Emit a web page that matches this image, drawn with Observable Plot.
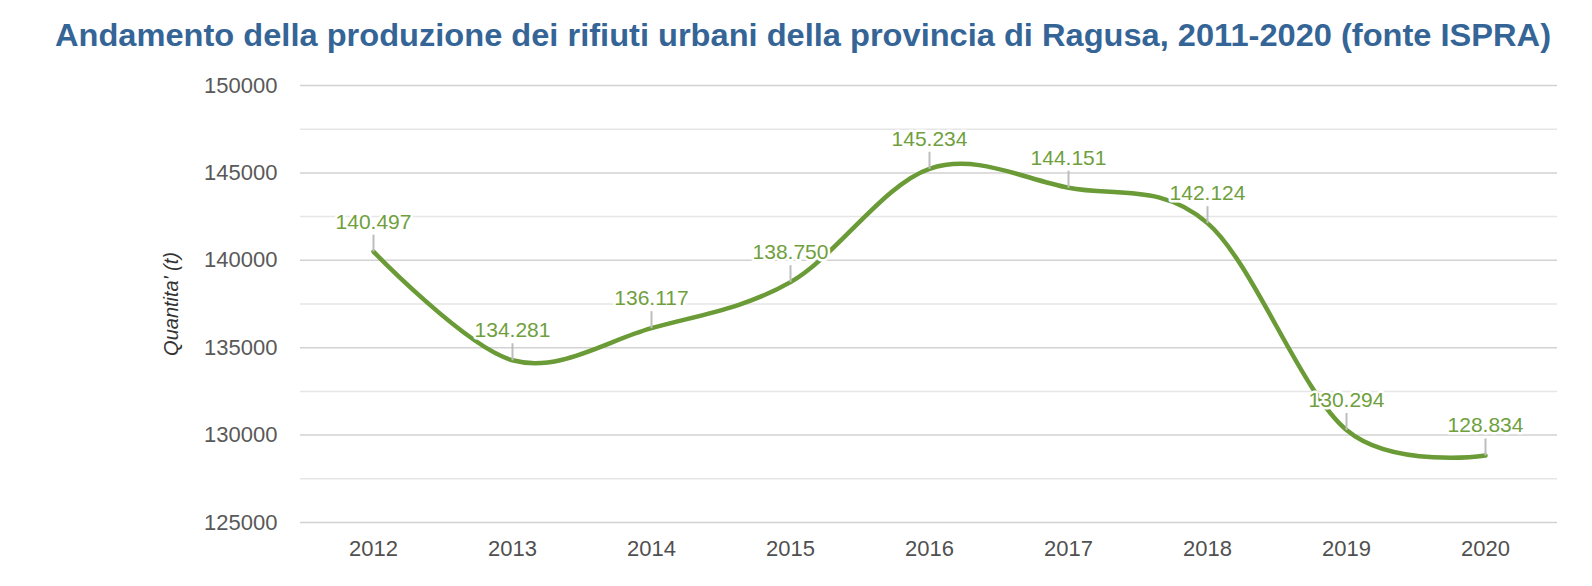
<!DOCTYPE html>
<html>
<head>
<meta charset="utf-8">
<script src="https://cdn.jsdelivr.net/npm/d3@7"></script>
<script src="https://cdn.jsdelivr.net/npm/@observablehq/plot@0.6"></script>
<style>
  html, body { margin: 0; padding: 0; background: #ffffff; width: 1592px; height: 586px; overflow: hidden; }
  #title { position: absolute; left: 55px; top: 19px; font-family: "Liberation Sans", Arial, sans-serif; font-weight: bold; font-size: 32px; line-height: 32px; color: #356596; white-space: nowrap; transform-origin: left top; }
  #chart { position: absolute; left: 0; top: 70px; }
</style>
</head>
<body>
<div id="title"></div>
<div id="chart"></div>
<script>
const titleText = "Andamento della produzione dei rifiuti urbani della provincia di Ragusa, 2011-2020 (fonte ISPRA)";
const years = ["2012", "2013", "2014", "2015", "2016", "2017", "2018", "2019", "2020"];
const values = [140497, 134281, 136117, 138750, 145234, 144151, 142124, 130294, 128834];
const yTicks = [125000, 130000, 135000, 140000, 145000, 150000];
const yMinorTicks = [127500, 132500, 137500, 142500, 147500];
const yLabel = "Quantita' (t)";

const data = years.map((year, i) => ({year, value: values[i]}));

const itFmt = d3.formatLocale({decimal: ",", thousands: ".", grouping: [3], currency: ["", ""]}).format(",d");

const titleEl = document.getElementById("title");
titleEl.textContent = titleText;
const w = titleEl.getBoundingClientRect().width;
titleEl.style.transform = `scaleX(${1496 / w})`;

const leader = {
  draw(context) {
    context.moveTo(0, 0);
    context.lineTo(0, -17);
  }
};

const chart = Plot.plot({
  width: 1592,
  height: 516,
  marginTop: 15,
  marginBottom: 64,
  marginLeft: 300,
  marginRight: 35,
  style: {fontFamily: "'Liberation Sans', Arial, sans-serif", background: "white"},
  x: {type: "point", domain: years, padding: 0.5},
  y: {domain: [125000, 150000]},
  marks: [
    Plot.ruleY(yMinorTicks, {stroke: "#e6e6e6", strokeWidth: 1.5}),
    Plot.ruleY(yTicks, {stroke: "#d2d2d2", strokeWidth: 1.5}),
    Plot.axisY({ticks: yTicks, tickSize: 0, tickPadding: 23, tickFormat: d3.format("d"), fontSize: 22, color: "#595959", label: null}),
    Plot.axisX({tickSize: 0, tickPadding: 18, fontSize: 22, color: "#505050", label: null}),
    Plot.text([yLabel], {text: d => d, frameAnchor: "left", textAnchor: "middle", rotate: -90, dx: -129, fontSize: 20, fontStyle: "italic", fill: "#333333"}),
    Plot.line(data, {x: "year", y: "value", curve: "cardinal", tension: 0, stroke: "#6a9b36", strokeWidth: 4.5}),
    Plot.dot(data, {x: "year", y: "value", symbol: leader, r: 4, stroke: "#bdbdbd", strokeWidth: 2, fill: "none"}),
    Plot.text(data, {x: "year", y: "value", text: d => itFmt(d.value), dy: -23, lineAnchor: "bottom", fill: "#6fa03d", fontSize: 21, stroke: "white", strokeWidth: 5, paintOrder: "stroke"})
  ]
});
document.getElementById("chart").appendChild(chart);
</script>
</body>
</html>
